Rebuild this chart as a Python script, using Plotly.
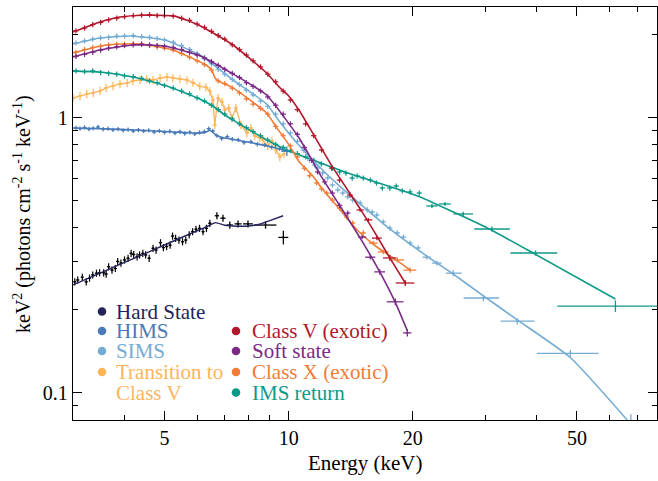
import math
import plotly.graph_objects as go

# ---------------- colours ----------------
C_HARD = "#24235c"
C_HIMS = "#4a7ab7"
C_SIMS = "#74acd4"
C_TRANS = "#fdb55a"
C_CV = "#b2182b"
C_SOFT = "#7b2a86"
C_CX = "#f07c37"
C_IMS = "#0e9a88"

# ---------------- Hard State ----------------
hard_E = [3.03, 3.08, 3.16, 3.23, 3.29, 3.35, 3.42, 3.48, 3.56, 3.61, 3.66, 3.73, 3.80, 3.85, 3.92, 4.00,
          4.08, 4.15, 4.21, 4.29, 4.35, 4.43, 4.50, 4.59, 4.69, 4.77, 4.89, 4.97, 5.06, 5.16, 5.23, 5.32,
          5.42, 5.53, 5.63, 5.74, 5.85, 5.96, 6.08, 6.20, 6.32, 6.44]
hard_F = [0.253, 0.257, 0.263, 0.253, 0.261, 0.268, 0.272, 0.273, 0.273, 0.270, 0.287, 0.279, 0.283, 0.300, 0.296, 0.304,
          0.308, 0.321, 0.318, 0.312, 0.317, 0.321, 0.317, 0.308, 0.335, 0.330, 0.351, 0.337, 0.340, 0.344, 0.371, 0.364,
          0.359, 0.354, 0.359, 0.375, 0.385, 0.393, 0.396, 0.385, 0.396, 0.413]
hard_hiE = [6.70, 6.93, 7.20, 7.54, 7.97, 8.79, 9.71]
hard_hiF = [0.440, 0.431, 0.407, 0.411, 0.411, 0.407, 0.367]
hard_hiEx = [0.08, 0.10, 0.13, 0.15, 0.22, 0.55, 0.27]
hard_hiFe = [0.013, 0.013, 0.012, 0.012, 0.012, 0.012, 0.021]
hard_mE = [3.0, 3.5, 4.0, 4.5, 5.0, 5.5, 6.0, 6.4, 6.65, 7.0, 7.5, 8.0, 8.5, 9.0, 9.7]
hard_mF = [0.2465, 0.2726, 0.2975, 0.3212, 0.3444, 0.3667, 0.388, 0.4048, 0.4153, 0.4062, 0.403, 0.404, 0.4096, 0.4225, 0.440]

# ---------------- HIMS ----------------
hims_E = [3.05, 3.12, 3.2, 3.28, 3.36, 3.45, 3.55, 3.65, 3.75, 3.86, 3.97, 4.08, 4.2, 4.32, 4.45, 4.58, 4.72,
          4.86, 5.0, 5.15, 5.3, 5.45, 5.6, 5.76, 5.92, 6.08, 6.25, 6.4, 6.55, 6.7, 6.88, 7.1, 7.3, 7.55, 7.8,
          8.1, 8.4, 8.75, 9.1, 9.5]
hims_F = [0.918, 0.912, 0.921, 0.909, 0.915, 0.925, 0.908, 0.912, 0.903, 0.909, 0.899, 0.905, 0.894, 0.902, 0.893,
          0.899, 0.887, 0.895, 0.884, 0.892, 0.879, 0.889, 0.876, 0.885, 0.873, 0.884, 0.890, 0.912, 0.895, 0.860,
          0.840, 0.853, 0.835, 0.830, 0.812, 0.818, 0.800, 0.795, 0.780, 0.772]
hims_hiE = [9.9]
hims_hiF = [0.755]
hims_hiEx = [0.3]
hims_hiFe = [0.03]
hims_mE = [3.0, 3.5, 4.0, 4.5, 5.0, 5.5, 6.0, 6.3, 6.45, 6.6, 6.8, 7.0, 7.5, 8.0, 8.5, 9.0, 9.5, 10.0]
hims_mF = [0.917, 0.912, 0.905, 0.898, 0.891, 0.884, 0.879, 0.886, 0.900, 0.875, 0.852, 0.843, 0.828, 0.814, 0.800,
           0.786, 0.770, 0.752]

# ---------------- SIMS ----------------
sims_E = [3.05, 3.2, 3.35, 3.5, 3.66, 3.83, 4.0, 4.2, 4.4, 4.6, 4.8, 5.0, 5.25, 5.5, 5.75, 6.0, 6.25, 6.5, 6.75,
          7.0, 7.3, 7.6, 7.9, 8.2, 8.55, 8.9, 9.3, 9.7, 10.1, 10.5, 10.9, 11.24, 11.56, 11.76, 12.09, 12.44,
          12.77, 13.16, 13.53, 13.91, 14.3, 14.91, 15.51, 15.95, 16.37, 16.96, 17.59, 18.34, 18.99, 19.7, 20.62]
sims_F = [1.87, 1.90, 1.93, 1.95, 1.96, 1.98, 1.98, 1.99, 1.97, 1.96, 1.94, 1.92, 1.88, 1.83, 1.77, 1.71, 1.64,
          1.57, 1.50, 1.44, 1.38, 1.32, 1.26, 1.21, 1.15, 1.10, 1.03, 0.95, 0.88, 0.82, 0.76, 0.702, 0.673, 0.656,
          0.629, 0.603, 0.569, 0.546, 0.532, 0.515, 0.502, 0.490, 0.462, 0.454, 0.443, 0.418, 0.397, 0.381, 0.368,
          0.350, 0.336]
sims_hiE = [21.62, 22.88, 25.07, 29.66, 35.84, 48.2, 67.6]
sims_hiF = [0.311, 0.296, 0.272, 0.221, 0.182, 0.139, 0.078]
sims_hiExm = [0.5, 0.6, 1.0, 3.1, 3.2, 8.2, 2.0]
sims_hiExp = [0.5, 0.6, 1.2, 2.7, 3.6, 8.2, 2.0]
sims_hiFe = [0.006, 0.006, 0.007, 0.006, 0.005, 0.004, 0.0054]
sims_mE = [3.0, 3.49, 4.13, 5.0, 6.09, 7.33, 8.84, 9.52, 10.62, 11.43, 13.29, 14.91, 17.59, 21.62, 25.07, 29.66,
           35.84, 48.26, 66.2]
sims_mF = [1.854, 1.949, 1.982, 1.917, 1.690, 1.371, 1.121, 0.965, 0.790, 0.702, 0.564, 0.486, 0.394, 0.314,
           0.270, 0.225, 0.184, 0.134, 0.0796]

# ---------------- Transition to Class V ----------------
trans_E = [3.00, 3.12, 3.24, 3.36, 3.49, 3.61, 3.75, 3.90, 4.06, 4.19, 4.36, 4.53, 4.69, 4.88, 5.07, 5.24, 5.45,
           5.67, 5.86, 6.09, 6.30, 6.44, 6.55, 6.62, 6.74, 6.89, 7.00, 7.16, 7.28, 7.45, 7.66, 7.92, 8.10, 8.28,
           8.51, 8.66, 8.90, 9.11, 9.31, 9.52, 9.74]
trans_F = [1.179, 1.199, 1.219, 1.230, 1.251, 1.283, 1.304, 1.326, 1.337, 1.360, 1.371, 1.382, 1.371, 1.394, 1.406,
           1.394, 1.382, 1.371, 1.340, 1.300, 1.290, 1.250, 1.160, 0.941, 1.179, 1.140, 1.067, 1.085, 0.998, 1.085,
           0.941, 0.880, 0.917, 0.858, 0.844, 0.830, 0.789, 0.823, 0.763, 0.719, 0.738]

# ---------------- Class V (exotic) ----------------
cv_E = [3.05, 3.2, 3.35, 3.5, 3.66, 3.83, 4.0, 4.2, 4.4, 4.6, 4.8, 5.0, 5.25, 5.5, 5.75, 6.0, 6.25, 6.5, 6.75,
        7.0, 7.3, 7.6, 7.9, 8.2, 8.55, 8.9, 9.3, 9.7, 10.1, 10.5, 11.0, 11.5, 12.02, 12.71, 13.29, 14.1]
cv_F = [2.07, 2.12, 2.18, 2.22, 2.27, 2.30, 2.33, 2.35, 2.36, 2.37, 2.35, 2.35, 2.34, 2.30, 2.26, 2.19, 2.13, 2.06,
        1.99, 1.93, 1.84, 1.77, 1.69, 1.61, 1.53, 1.44, 1.35, 1.25, 1.16, 1.07, 0.95, 0.86, 0.763, 0.656, 0.593,
        0.523]
cv_hiE = [14.91, 15.6, 16.37, 17.59, 19.18]
cv_hiF = [0.462, 0.425, 0.365, 0.309, 0.2505]
cv_hiEx = [0.3, 0.35, 0.45, 0.65, 1.0]
cv_hiFe = [0.007, 0.007, 0.007, 0.007, 0.006]
cv_mE = [3.0, 3.49, 3.9, 4.44, 5.29, 6.11, 7.33, 8.84, 9.54, 10.0, 10.62, 11.43, 12.77, 14.91, 16.37, 17.59, 19.18]
cv_mF = [2.049, 2.229, 2.323, 2.359, 2.340, 2.155, 1.838, 1.454, 1.282, 1.200, 1.060, 0.880, 0.662, 0.466, 0.371,
         0.309, 0.2505]

# ---------------- Soft state ----------------
soft_E = [3.05, 3.2, 3.35, 3.5, 3.66, 3.83, 4.0, 4.2, 4.4, 4.6, 4.8, 5.0, 5.25, 5.5, 5.75, 6.0, 6.25, 6.5, 6.75,
          7.0, 7.3, 7.6, 7.9, 8.2, 8.55, 8.9, 9.3, 9.7, 10.1, 10.5, 10.92, 11.37, 11.76, 12.23, 12.77, 13.29, 13.91]
soft_F = [1.67, 1.70, 1.73, 1.76, 1.79, 1.81, 1.83, 1.84, 1.85, 1.84, 1.83, 1.82, 1.80, 1.77, 1.73, 1.69, 1.65,
          1.60, 1.55, 1.50, 1.45, 1.40, 1.34, 1.30, 1.25, 1.19, 1.11, 1.03, 0.95, 0.87, 0.78, 0.70, 0.635, 0.584,
          0.532, 0.480, 0.450]
soft_hiE = [15.08, 15.78, 16.63, 18.14, 19.4]
soft_hiF = [0.368, 0.311, 0.275, 0.214, 0.165]
soft_hiEx = [0.35, 0.45, 0.5, 0.85, 0.45]
soft_hiFe = [0.006, 0.006, 0.006, 0.006, 0.005]
soft_mE = [3.0, 3.49, 4.19, 5.0, 6.11, 7.33, 8.84, 9.82, 10.62, 12.09, 13.29, 15.08, 16.63, 18.14, 19.4]
soft_mF = [1.663, 1.763, 1.838, 1.823, 1.677, 1.442, 1.209, 0.990, 0.840, 0.600, 0.480, 0.355, 0.275, 0.213, 0.168]

# ---------------- Class X (exotic) ----------------
cx_E = [3.05, 3.2, 3.35, 3.5, 3.66, 3.83, 4.0, 4.2, 4.4, 4.6, 4.8, 5.0, 5.25, 5.5, 5.75, 6.0, 6.25, 6.5, 6.75,
        7.0, 7.3, 7.6, 7.9, 8.2, 8.55, 8.9, 9.3, 9.7, 10.1, 10.5, 10.92, 11.24, 11.69, 12.02, 12.37, 12.77, 13.29,
        13.83, 14.3, 15.17]
cx_F = [1.73, 1.77, 1.80, 1.82, 1.84, 1.85, 1.85, 1.86, 1.85, 1.83, 1.81, 1.79, 1.76, 1.71, 1.66, 1.61, 1.56,
        1.49, 1.36, 1.33, 1.28, 1.23, 1.17, 1.12, 1.08, 1.03, 0.93, 0.86, 0.79, 0.72, 0.655, 0.615, 0.579, 0.550,
        0.532, 0.502, 0.469, 0.435, 0.414, 0.381]
cx_hiE = [16.04, 16.96, 18.34, 19.7]
cx_hiF = [0.350, 0.325, 0.304, 0.279]
cx_hiEx = [0.4, 0.5, 0.7, 0.7]
cx_hiFe = [0.006, 0.006, 0.006, 0.006]
cx_mE = [3.0, 3.61, 4.36, 5.24, 6.3, 6.51, 6.62, 6.75, 7.33, 8.84, 9.31, 10.0, 10.62, 11.43, 12.02, 13.29, 14.66,
         16.37, 17.93, 19.7]
cx_mF = [1.719, 1.838, 1.854, 1.763, 1.555, 1.491, 1.400, 1.360, 1.283, 1.040, 0.930, 0.800, 0.690, 0.615, 0.555,
         0.465, 0.3905, 0.3387, 0.309, 0.2794]

# ---------------- IMS return ----------------
ims_E = [3.05, 3.2, 3.35, 3.5, 3.66, 3.83, 4.0, 4.2, 4.4, 4.6, 4.8, 5.0, 5.25, 5.5, 5.75, 6.0, 6.25, 6.5, 6.75,
         7.0, 7.3, 7.6, 7.9, 8.2, 8.55, 8.9, 9.3, 9.7, 10.1, 10.5, 11.0, 11.5, 12.0, 12.77, 13.29, 13.77, 14.26,
         14.66, 15.17, 15.78, 16.33, 16.87, 17.59, 18.24, 18.86, 19.70, 20.74]
ims_F = [1.48, 1.47, 1.48, 1.46, 1.45, 1.44, 1.42, 1.41, 1.39, 1.36, 1.34, 1.31, 1.28, 1.25, 1.22, 1.18, 1.15,
         1.11, 1.07, 1.03, 0.99, 0.95, 0.92, 0.89, 0.86, 0.83, 0.80, 0.78, 0.76, 0.74, 0.72, 0.70, 0.68, 0.656,
         0.635, 0.629, 0.603, 0.614, 0.603, 0.593, 0.579, 0.555, 0.555, 0.564, 0.542, 0.537, 0.532]
ims_hiE = [22.26, 23.93, 26.5, 31.1, 39.7, 62.0]
ims_hiF = [0.4775, 0.4856, 0.4466, 0.3938, 0.3221, 0.2066]
ims_hiExm = [0.7, 0.8, 1.4, 2.9, 5.2, 17.2]
ims_hiExp = [0.7, 0.8, 1.5, 3.3, 5.1, 40.0]
ims_hiFe = [0.008, 0.008, 0.008, 0.008, 0.007, 0.010]
ims_mE = [3.0, 3.49, 4.19, 5.07, 6.09, 6.55, 7.0, 7.61, 8.51, 9.9, 11.43, 13.29, 15.17, 18.34, 20.85, 25.07, 30.34,
          39.15, 62.0]
ims_mF = [1.477, 1.466, 1.406, 1.304, 1.170, 1.103, 1.023, 0.949, 0.858, 0.763, 0.702, 0.645, 0.603, 0.550, 0.515,
          0.454, 0.397, 0.322, 0.219]

# ---------------- legend ----------------
legend_col1 = ["Hard State", "HIMS", "SIMS", "Transition to", "Class V"]
legend_col1_colors = [C_HARD, C_HIMS, C_SIMS, C_TRANS, C_TRANS]
legend_col1_dot = [True, True, True, True, False]
legend_col2 = ["Class V (exotic)", "Soft state", "Class X (exotic)", "IMS return"]
legend_col2_colors = [C_CV, C_SOFT, C_CX, C_IMS]

x_ticks = [5, 10, 20, 50]
x_minor = [3, 4, 6, 7, 8, 9, 30, 40, 60, 70]
y_ticks = [0.1, 1]
y_minor = [0.09, 0.2, 0.3, 0.4, 0.5, 0.6, 0.7, 0.8, 0.9, 2]

FONT = "Liberation Serif"
fig = go.Figure()


def dense(E, F, color, xpct=1.5, ypct=2.2, mode="markers", lw=1.2):
    fig.add_trace(go.Scatter(
        x=E, y=F, mode=mode, line=dict(color=color, width=lw),
        marker=dict(size=2, color=color),
        error_x=dict(type="percent", value=xpct, color=color, thickness=1.2, width=0),
        error_y=dict(type="percent", value=ypct, color=color, thickness=1.2, width=0),
        showlegend=False, hoverinfo="skip"))


def sparse(E, F, color, xm, xp, ye):
    fig.add_trace(go.Scatter(
        x=E, y=F, mode="markers", marker=dict(size=2, color=color),
        error_x=dict(type="data", array=xp, arrayminus=xm, symmetric=False, color=color, thickness=1.3, width=0),
        error_y=dict(type="data", array=ye, color=color, thickness=1.3, width=0),
        showlegend=False, hoverinfo="skip"))


def model(E, F, color, lw=1.6):
    fig.add_trace(go.Scatter(x=E, y=F, mode="lines", line=dict(color=color, width=lw, shape="spline", smoothing=0.5),
                             showlegend=False, hoverinfo="skip"))


# Transition (noisy line with errors)
dense(trans_E, trans_F, C_TRANS, xpct=1.2, ypct=3.5, mode="lines+markers", lw=1.3)
# Hard state
dense(hard_E, hard_F, "#000000", xpct=0.9, ypct=3.0)
sparse(hard_hiE, hard_hiF, "#000000", hard_hiEx, hard_hiEx, hard_hiFe)
model(hard_mE, hard_mF, C_HARD, lw=1.4)
# HIMS
dense(hims_E, hims_F, C_HIMS, xpct=1.2, ypct=1.8)
sparse(hims_hiE, hims_hiF, C_HIMS, hims_hiEx, hims_hiEx, hims_hiFe)
model(hims_mE, hims_mF, C_HIMS)
# IMS return
dense(ims_E, ims_F, C_IMS)
sparse(ims_hiE, ims_hiF, C_IMS, ims_hiExm, ims_hiExp, ims_hiFe)
model(ims_mE, ims_mF, C_IMS)
# Class X
dense(cx_E, cx_F, C_CX)
sparse(cx_hiE, cx_hiF, C_CX, cx_hiEx, cx_hiEx, cx_hiFe)
model(cx_mE, cx_mF, C_CX)
# SIMS
dense(sims_E, sims_F, C_SIMS)
sparse(sims_hiE, sims_hiF, C_SIMS, sims_hiExm, sims_hiExp, sims_hiFe)
model(sims_mE, sims_mF, C_SIMS)
# Soft state
dense(soft_E, soft_F, C_SOFT)
sparse(soft_hiE, soft_hiF, C_SOFT, soft_hiEx, soft_hiEx, soft_hiFe)
model(soft_mE, soft_mF, C_SOFT)
# Class V
dense(cv_E, cv_F, C_CV)
sparse(cv_hiE, cv_hiF, C_CV, cv_hiEx, cv_hiEx, cv_hiFe)
model(cv_mE, cv_mF, C_CV)

# ---------------- layout ----------------
L, R, T, B = 73, 1, 7, 61
W, H = 658, 481
PW, PH = W - L - R, H - T - B


def px2paper(px, py):
    return (px - L) / PW, (H - B - py) / PH


axis_common = dict(showline=True, linecolor="black", linewidth=1.3, mirror="ticks", ticks="inside",
                   tickwidth=1.3, tickcolor="black", ticklen=9, showgrid=False, zeroline=False,
                   tickfont=dict(family=FONT, size=20, color="black"))

fig.update_layout(
    width=W, height=H, margin=dict(l=L, r=R, t=T, b=B),
    paper_bgcolor="white", plot_bgcolor="white", showlegend=False,
    font=dict(family=FONT, color="black"),
    xaxis=dict(type="log", range=[math.log10(3), math.log10(78.2)], tickvals=x_ticks,
               ticktext=[str(v) for v in x_ticks],
               minor=dict(ticks="inside", ticklen=5, tickwidth=1.1, tickcolor="black", tickvals=x_minor),
               **axis_common),
    yaxis=dict(type="log", range=[-1.0993, 0.4025], tickvals=y_ticks, ticktext=["0.1", "1"],
               minor=dict(ticks="inside", ticklen=5, tickwidth=1.1, tickcolor="black", tickvals=y_minor),
               **axis_common),
)

ann = []
shapes = []
# axis titles
tx, ty = px2paper(365, 463)
ann.append(dict(text="Energy (keV)", x=0.5, y=ty, xref="paper", yref="paper", xanchor="center",
                yanchor="middle", showarrow=False, font=dict(family=FONT, size=21, color="black")))
tx, ty = px2paper(22, 214)
ann.append(dict(text="keV<sup>2</sup> (photons cm<sup>-2</sup> s<sup>-1</sup> keV<sup>-1</sup>)",
                x=tx, y=ty, xref="paper", yref="paper", xanchor="center", yanchor="middle", textangle=-90,
                showarrow=False, font=dict(family=FONT, size=20, color="black")))

rows1 = [311.5, 331, 351, 372, 392.5]
rows2 = [331, 351, 372, 392.5]


def legend_item(cx_px, tx_px, py, label, color, dot):
    if dot:
        cxp, cyp = px2paper(cx_px, py)
        shapes.append(dict(type="circle", xref="paper", yref="paper", xsizemode="pixel", ysizemode="pixel",
                           xanchor=cxp, yanchor=cyp, x0=-4.3, x1=4.3, y0=-4.3, y1=4.3,
                           fillcolor=color, line=dict(width=0)))
    txp, typ = px2paper(tx_px, py)
    ann.append(dict(text=label, x=txp, y=typ, xref="paper", yref="paper", xanchor="left", yanchor="middle",
                    showarrow=False, font=dict(family=FONT, size=21, color=color)))


for lab, col, dot, py in zip(legend_col1, legend_col1_colors, legend_col1_dot, rows1):
    legend_item(102, 114, py, lab, col, dot)
for lab, col, py in zip(legend_col2, legend_col2_colors, rows2):
    legend_item(236, 250, py, lab, col, True)

fig.update_layout(annotations=ann, shapes=shapes)
fig.write_html("out.html")
